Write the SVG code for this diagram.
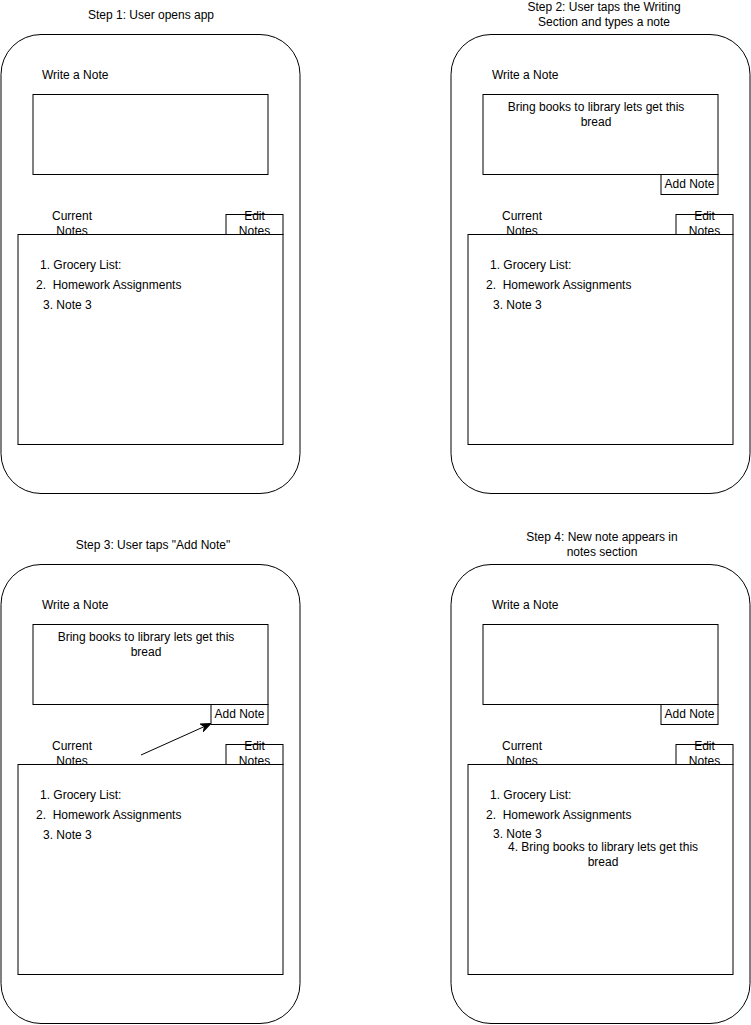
<svg xmlns="http://www.w3.org/2000/svg" width="751" height="1025" viewBox="0 0 751 1025">
<style>
rect{fill:#fff;stroke:#000;stroke-width:1}
rect.bg{stroke:none}
text{font-family:"Liberation Sans",Arial,sans-serif;font-size:12px;fill:#000}
.c{text-anchor:middle}
</style>
<defs>
<marker id="ah" markerWidth="10" markerHeight="10" refX="9" refY="5" orient="auto" markerUnits="userSpaceOnUse">
<path d="M0,1 L10,5 L0,9 L3,5 Z" fill="#000" stroke="#000" stroke-width="1"/>
</marker>
</defs>
<rect class="bg" width="751" height="1025"/>

<g id="titles">
<text id="t1" class="c" x="151" y="19">Step 1: User opens app</text>
<text id="t2" class="c" x="604" y="11">Step 2: User taps the Writing</text>
<text class="c" x="604" y="26">Section and types a note</text>
<text id="t3" class="c" x="153" y="549">Step 3: User taps "Add Note"</text>
<text id="t4" class="c" x="602" y="541">Step 4: New note appears in</text>
<text class="c" x="602" y="556">notes section</text>
</g>

<g id="phone1">
<rect x="1" y="34.5" width="299" height="459" rx="40" ry="40"/>
<text x="42" y="79">Write a Note</text>
<rect id="p1-input" x="33" y="94.5" width="235" height="80"/>
<rect id="p1-edit" x="226" y="214.5" width="57" height="20"/>
<rect id="p1-panel" x="18" y="234.5" width="265" height="210"/>
<text class="c" x="72" y="220">Current</text>
<text class="c" x="72" y="235">Notes</text>
<text class="c" x="254.5" y="220">Edit</text>
<text class="c" x="254.5" y="235">Notes</text>
<text x="40" y="269">1. Grocery List:</text>
<text x="36" y="289" xml:space="preserve">2.  Homework Assignments</text>
<text x="43" y="308.5">3. Note 3</text>
</g>

<g id="phone2">
<rect x="451" y="34.5" width="299" height="459" rx="40" ry="40"/>
<text x="492" y="79">Write a Note</text>
<rect id="p2-input" x="483" y="94.5" width="235" height="80"/>
<text class="c" x="596" y="111">Bring books to library lets get this</text>
<text class="c" x="596" y="126">bread</text>
<rect id="p2-add" x="661" y="174.5" width="57" height="20"/>
<text class="c" x="689.5" y="188">Add Note</text>
<rect id="p2-edit" x="676" y="214.5" width="57" height="20"/>
<rect id="p2-panel" x="468" y="234.5" width="265" height="210"/>
<text class="c" x="522" y="220">Current</text>
<text class="c" x="522" y="235">Notes</text>
<text class="c" x="704.5" y="220">Edit</text>
<text class="c" x="704.5" y="235">Notes</text>
<text x="490" y="269">1. Grocery List:</text>
<text x="486" y="289" xml:space="preserve">2.  Homework Assignments</text>
<text x="493" y="308.5">3. Note 3</text>
</g>

<g id="phone3">
<rect x="1" y="564.5" width="299" height="459" rx="40" ry="40"/>
<text x="42" y="609">Write a Note</text>
<rect id="p3-input" x="33" y="624.5" width="235" height="80"/>
<text class="c" x="146" y="641">Bring books to library lets get this</text>
<text class="c" x="146" y="656">bread</text>
<rect id="p3-add" x="211" y="704.5" width="57" height="20"/>
<text class="c" x="239.5" y="718">Add Note</text>
<rect id="p3-edit" x="226" y="744.5" width="57" height="20"/>
<rect id="p3-panel" x="18" y="764.5" width="265" height="210"/>
<text class="c" x="72" y="750">Current</text>
<text class="c" x="72" y="765">Notes</text>
<text class="c" x="254.5" y="750">Edit</text>
<text class="c" x="254.5" y="765">Notes</text>
<text x="40" y="799">1. Grocery List:</text>
<text x="36" y="819" xml:space="preserve">2.  Homework Assignments</text>
<text x="43" y="838.5">3. Note 3</text>
</g>

<g id="phone4">
<rect x="451" y="564.5" width="299" height="459" rx="40" ry="40"/>
<text x="492" y="609">Write a Note</text>
<rect id="p4-input" x="483" y="624.5" width="235" height="80"/>
<rect id="p4-add" x="661" y="704.5" width="57" height="20"/>
<text class="c" x="689.5" y="718">Add Note</text>
<rect id="p4-edit" x="676" y="744.5" width="57" height="20"/>
<rect id="p4-panel" x="468" y="764.5" width="265" height="210"/>
<text class="c" x="522" y="750">Current</text>
<text class="c" x="522" y="765">Notes</text>
<text class="c" x="704.5" y="750">Edit</text>
<text class="c" x="704.5" y="765">Notes</text>
<text x="490" y="799">1. Grocery List:</text>
<text x="486" y="819" xml:space="preserve">2.  Homework Assignments</text>
<text x="493" y="838">3. Note 3</text>
<text class="c" x="603" y="851">4. Bring books to library lets get this</text>
<text class="c" x="603" y="866">bread</text>
</g>

<g id="connectors">
<line x1="141" y1="755" x2="210" y2="724" stroke="#000" stroke-width="1" marker-end="url(#ah)"/>
</g>
</svg>
